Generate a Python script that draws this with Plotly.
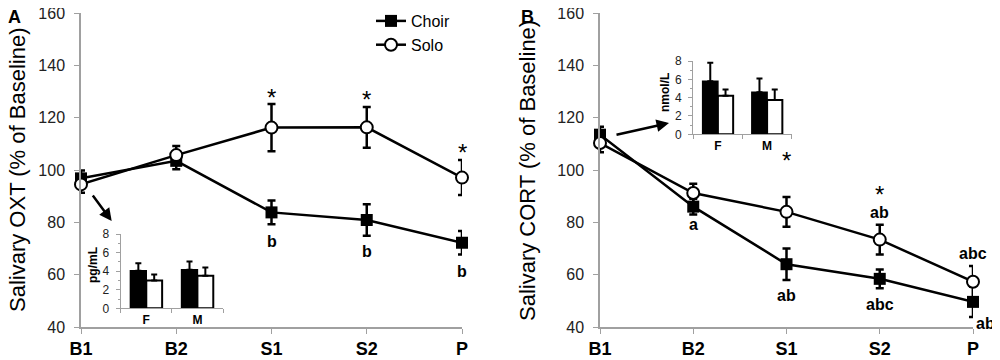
import plotly.graph_objects as go

# ---------------- data ----------------
timepoints = ["B1", "B2", "S1", "S2", "P"]

oxt_choir = [96.8, 103.5, 83.8, 80.9, 72.2]
oxt_choir_se = [3.0, 3.2, 4.5, 6.0, 4.5]
oxt_solo = [94.5, 105.7, 116.2, 116.3, 97.1]
oxt_solo_se = [3.2, 3.5, 9.0, 7.8, 6.7]

cort_choir = [113.5, 86.0, 64.0, 58.4, 49.6]
cort_choir_se = [3.0, 3.0, 6.0, 3.6, 5.8]
cort_solo = [110.3, 91.2, 84.0, 73.4, 57.3]
cort_solo_se = [3.5, 3.5, 5.7, 5.7, 6.0]

sex = ["F", "M"]
oxt_base_choir = [4.05, 4.15]
oxt_base_choir_se = [0.8, 0.9]
oxt_base_solo = [3.0, 3.5]
oxt_base_solo_se = [0.65, 0.9]

cort_base_choir = [5.8, 4.6]
cort_base_choir_se = [2.0, 1.5]
cort_base_solo = [4.2, 3.75]
cort_base_solo_se = [0.7, 1.15]

# annotations (text, category index, value, horizontal shift in px)
oxt_stars = [(2, 129.5), (3, 128.7), (4, 108.5)]
oxt_letters = [("b", 2, 72.5, 0), ("b", 3, 68.7, 0), ("b", 4, 61.4, 0)]
cort_stars = [(2, 105.7), (3, 92.6)]
cort_letters = [("a", 1, 79.0, 0), ("ab", 2, 52.2, 0), ("abc", 3, 48.7, 0), ("ab", 4, 41.4, 12),
                ("ab", 3, 83.7, 0), ("abc", 4, 68.2, 0)]

FONT = "Arial, Liberation Sans, sans-serif"
AXC = "#a0a0a0"
OFF = 8                      # page body margin of the browser
W, H = 1000 - OFF, 360 - OFF


def px(x):
    return (x - OFF) / W


def py(y):
    return (H - (y - OFF)) / H


fig = go.Figure()


def add_lines(xa, ya, choir, choir_se, solo, solo_se, legend):
    fig.add_trace(go.Scatter(
        x=timepoints, y=choir, name="Choir", mode="lines+markers",
        xaxis=xa, yaxis=ya, cliponaxis=False, showlegend=legend,
        line=dict(color="black", width=2.5),
        marker=dict(symbol="square", size=12, color="black"),
        error_y=dict(type="data", array=choir_se, color="black", thickness=2.5, width=4),
    ))
    fig.add_trace(go.Scatter(
        x=timepoints, y=solo, name="Solo", mode="lines+markers",
        xaxis=xa, yaxis=ya, cliponaxis=False, showlegend=legend,
        line=dict(color="black", width=2.5),
        marker=dict(symbol="circle", size=12, color="white", line=dict(color="black", width=2)),
        error_y=dict(type="data", array=solo_se, color="black", thickness=2.5, width=4),
    ))


add_lines("x", "y", oxt_choir, oxt_choir_se, oxt_solo, oxt_solo_se, True)
add_lines("x2", "y2", cort_choir, cort_choir_se, cort_solo, cort_solo_se, False)


def add_bars(xa, ya, ch, ch_se, so, so_se):
    fig.add_trace(go.Bar(
        x=sex, y=ch, xaxis=xa, yaxis=ya, showlegend=False,
        marker=dict(color="black", line=dict(color="black", width=1.5)),
        error_y=dict(type="data", array=ch_se, arrayminus=[0, 0], symmetric=False,
                     color="black", thickness=2, width=3),
    ))
    fig.add_trace(go.Bar(
        x=sex, y=so, xaxis=xa, yaxis=ya, showlegend=False,
        marker=dict(color="white", line=dict(color="black", width=2)),
        error_y=dict(type="data", array=so_se, arrayminus=[0, 0], symmetric=False,
                     color="black", thickness=2, width=3),
    ))


add_bars("x3", "y3", oxt_base_choir, oxt_base_choir_se, oxt_base_solo, oxt_base_solo_se)
add_bars("x4", "y4", cort_base_choir, cort_base_choir_se, cort_base_solo, cort_base_solo_se)

main_x = dict(type="category", range=[0, 4], showline=True, linecolor=AXC, linewidth=1.5,
              ticks="outside", ticklen=5, tickcolor=AXC, showgrid=False, zeroline=False,
              automargin=False, ticklabeloverflow="allow",
              tickfont=dict(family=FONT, size=18, color="black", weight="bold"),
              ticklabelstandoff=0)
main_y = dict(range=[40, 160], dtick=20, showline=True, linecolor=AXC, linewidth=1.5,
              ticks="outside", ticklen=5, tickcolor=AXC, showgrid=False, zeroline=False,
              automargin=False, ticklabeloverflow="allow",
              tickfont=dict(family=FONT, size=16, color="#222"), ticklabelstandoff=6)
ydom = [py(327), py(13)]

inset_x = dict(type="category", range=[-0.5, 1.5], showline=True, linecolor=AXC, linewidth=1.2,
               ticks="outside", tickson="boundaries", ticklen=4, tickcolor=AXC,
               showgrid=False, zeroline=False, automargin=False,
               tickfont=dict(family=FONT, size=12, color="black", weight="bold"))
inset_y = dict(range=[0, 8], dtick=2, showline=True, linecolor=AXC, linewidth=1.2,
               ticks="outside", ticklen=4, tickcolor=AXC, showgrid=False, zeroline=False,
               automargin=False, ticklabeloverflow="allow",
               tickfont=dict(family=FONT, size=12, color="#222"), ticklabelstandoff=4,
               minor=dict(dtick=1, ticks="outside", ticklen=2, tickcolor=AXC))

fig.update_layout(
    template="none",
    width=W, height=H, margin=dict(l=0, r=0, t=0, b=0, pad=0, autoexpand=False),
    paper_bgcolor="white", plot_bgcolor="rgba(0,0,0,0)",
    barmode="group", bargap=0.38, bargroupgap=0,
    font=dict(family=FONT, color="black"),
    xaxis=dict(domain=[px(81), px(462)], anchor="y", **main_x),
    yaxis=dict(domain=ydom, anchor="x", **main_y),
    xaxis2=dict(domain=[px(600), px(973)], anchor="y2", **main_x),
    yaxis2=dict(domain=ydom, anchor="x2", **main_y),
    xaxis3=dict(domain=[px(120.7), px(223)], anchor="y3", **inset_x),
    yaxis3=dict(domain=[py(308.3), py(234)], anchor="x3", **inset_y),
    xaxis4=dict(domain=[px(693.3), px(791.7)], anchor="y4", **inset_x),
    yaxis4=dict(domain=[py(134.3), py(61)], anchor="x4", **inset_y),
    legend=dict(x=px(371), y=py(4), xanchor="left", yanchor="top",
                font=dict(family=FONT, size=16, color="black"),
                bgcolor="rgba(0,0,0,0)", itemwidth=30, tracegroupgap=0),
)

C = dict(xanchor="center", yanchor="middle", showarrow=False)
ann = []
for (xi, yv) in oxt_stars:
    ann.append(dict(x=xi, y=yv, xref="x", yref="y", text="*",
                    font=dict(family=FONT, size=24), yshift=-5, **C))
for (t, xi, yv, sh) in oxt_letters:
    ann.append(dict(x=xi, y=yv, xref="x", yref="y", text=t, xshift=sh,
                    font=dict(family=FONT, size=16, weight="bold"), **C))
for (xi, yv) in cort_stars:
    ann.append(dict(x=xi, y=yv, xref="x2", yref="y2", text="*",
                    font=dict(family=FONT, size=24), yshift=-5, **C))
for (t, xi, yv, sh) in cort_letters:
    ann.append(dict(x=xi, y=yv, xref="x2", yref="y2", text=t, xshift=sh,
                    font=dict(family=FONT, size=16, weight="bold"), **C))

# axis titles
ann.append(dict(x=px(17), y=py(170), xref="paper", yref="paper", text="Salivary OXT (% of Baseline)",
                textangle=-90, font=dict(family=FONT, size=22, color="black"), **C))
ann.append(dict(x=px(528), y=py(171), xref="paper", yref="paper", text="Salivary CORT (% of Baseline)",
                textangle=-90, font=dict(family=FONT, size=22, color="black"), **C))
# inset titles
ann.append(dict(x=px(93), y=py(265), xref="paper", yref="paper", text="pg/mL",
                textangle=-90, font=dict(family=FONT, size=12, weight="bold"), **C))
ann.append(dict(x=px(665), y=py(93), xref="paper", yref="paper", text="nmol/L",
                textangle=-90, font=dict(family=FONT, size=12, weight="bold"), **C))
# panel labels
ann.append(dict(x=px(14), y=py(17), xref="paper", yref="paper", text="A",
                font=dict(family=FONT, size=18, weight="bold"), **C))
ann.append(dict(x=px(527), y=py(17), xref="paper", yref="paper", text="B",
                font=dict(family=FONT, size=18, weight="bold"), **C))
# arrows
ann.append(dict(x=px(111.7), y=py(221), xref="paper", yref="paper", text="", showarrow=True,
                ax=-20, ay=-27, arrowhead=2, arrowsize=1, arrowwidth=2.5, arrowcolor="black"))
ann.append(dict(x=px(669), y=py(123), xref="paper", yref="paper", text="", showarrow=True,
                ax=-54, ay=12, arrowhead=2, arrowsize=1, arrowwidth=2.5, arrowcolor="black"))

fig.update_layout(annotations=ann)
fig.write_html("out.html")
